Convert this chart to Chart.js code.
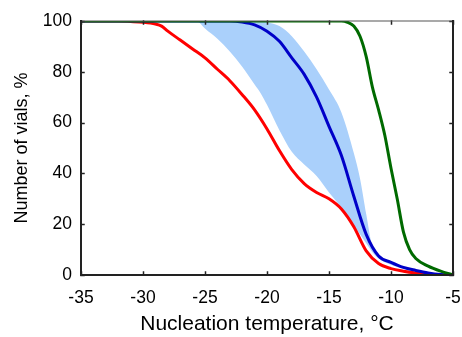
<!DOCTYPE html>
<html><head><meta charset="utf-8">
<script src="https://cdn.jsdelivr.net/npm/chart.js@4/dist/chart.umd.min.js"></script>
<style>html,body{margin:0;padding:0;background:#fff;}#wrap{width:462px;height:337px;}</style>
</head><body><div id="wrap"><canvas id="c" width="462" height="337"></canvas></div>
<script>
const xTicks = [-35,-30,-25,-20,-15,-10,-5];
const yTicks = [0,20,40,60,80,100];

const redX = [-35,-32,-31,-30,-29,-28.5,-28,-27,-26,-25,-24,-23,-22,-21,-20,-19,-18,-17,-16,-15,-14,-13,-12,-11,-10,-9,-8,-7,-6,-5];
const redY = [100,100,99.8,99.5,98.8,98,96,92.5,89,85.5,81,76.5,71,65,57.5,49,41.5,36,32.5,30,26,19,9.5,4.5,2.5,1.5,0.8,0.3,0,0];

const blueX = [-35,-23,-22,-21,-20,-19,-18,-17,-16,-15,-14,-13,-12,-11,-10,-9,-8,-7,-6,-5];
const blueY = [100,100,99.6,98.5,96,92,85.5,79,70,58.5,47,31,16,7.5,5,3,1.8,0.8,0.2,0];

const greenX = [-35,-14,-13.5,-13,-12.5,-12,-11.5,-11,-10.5,-10,-9.5,-9,-8.5,-8,-7,-6,-5];
const greenY = [100,100,99.5,98,94,86,74,65,55,42,30,17,10,6.5,3.5,1.5,0];

const bandX =     [-35,-26,-25.5,-25,-24,-23,-22,-21,-20.5,-20,-19,-18,-17,-16,-15,-14,-13,-12.5,-12,-11.5,-11,-10,-9,-8,-7,-6,-5];
const bandUpper = [100,100,100,100,100,100,100,100,100,99.5,98,94,88,81,73,64,48,38,24,11,8,5,3,1.8,0.8,0.2,0];
const bandLower = [100,100,99.5,97,93,88,82,75,71.5,67,57,48.5,43.5,39,32.5,26.5,19.5,16,12.5,9,6.5,4,2.5,1.5,0.6,0.1,0];

const pts = (xs, ys) => xs.map((x, i) => ({x: x, y: ys[i]}));

const framePlugin = {
  id: 'frame',
  afterDatasetsDraw(chart) {
    const {ctx, chartArea: a, scales: {x, y}} = chart;
    ctx.save();
    ctx.strokeStyle = '#222';
    ctx.lineCap = 'square';
    ctx.lineWidth = 1.5;
    xTicks.forEach(v => {
      const px = Math.round(x.getPixelForValue(v)) + 0.5;
      ctx.beginPath(); ctx.moveTo(px, a.bottom); ctx.lineTo(px, a.bottom - 3); ctx.stroke();
      ctx.beginPath(); ctx.moveTo(px, a.top); ctx.lineTo(px, a.top + 3); ctx.stroke();
    });
    yTicks.forEach(v => {
      const py = Math.round(y.getPixelForValue(v)) + 0.5;
      ctx.beginPath(); ctx.moveTo(a.left, py); ctx.lineTo(a.left + 3, py); ctx.stroke();
      ctx.beginPath(); ctx.moveTo(a.right, py); ctx.lineTo(a.right - 3, py); ctx.stroke();
    });
    ctx.lineWidth = 1.2;
    ctx.strokeStyle = '#555';
    ctx.beginPath(); ctx.moveTo(a.left, a.top); ctx.lineTo(a.right, a.top); ctx.stroke();
    ctx.lineWidth = 2;
    ctx.strokeStyle = '#222';
    ctx.beginPath(); ctx.moveTo(a.left, a.top); ctx.lineTo(a.left, a.bottom); ctx.lineTo(a.right, a.bottom); ctx.lineTo(a.right, a.top); ctx.stroke();
    ctx.restore();
  }
};

const common = {pointRadius: 0, borderWidth: 3, cubicInterpolationMode: 'monotone', tension: 0.4, fill: false};
const FONT = 'Liberation Sans, Arial, sans-serif';

new Chart(document.getElementById('c'), {
  type: 'line',
  data: {
    datasets: [
      {label: 'upper', data: pts(bandX, bandUpper), borderWidth: 0, borderColor: 'rgba(0,0,0,0)', pointRadius: 0, cubicInterpolationMode: 'monotone', fill: '+1', backgroundColor: '#aad0fb', order: 5},
      {label: 'lower', data: pts(bandX, bandLower), borderWidth: 0, borderColor: 'rgba(0,0,0,0)', pointRadius: 0, cubicInterpolationMode: 'monotone', fill: false, order: 5},
      Object.assign({label: 'red', data: pts(redX, redY), borderColor: '#ff0000', order: 3}, common),
      Object.assign({label: 'blue', data: pts(blueX, blueY), borderColor: '#0000c8', order: 2}, common),
      Object.assign({label: 'green', data: pts(greenX, greenY), borderColor: '#006a00', order: 1}, common)
    ]
  },
  options: {
    responsive: false,
    animation: false,
    events: [],
    layout: {padding: {left: 11, right: 9, top: 21, bottom: 0}},
    plugins: {legend: {display: false}, tooltip: {enabled: false}},
    scales: {
      x: {
        type: 'linear', min: -35, max: -5,
        afterBuildTicks: s => { s.ticks = xTicks.map(v => ({value: v})); },
        grid: {display: false, drawTicks: false},
        border: {display: false},
        ticks: {color: '#000', font: {family: FONT, size: 17.5}, padding: 13, maxRotation: 0},
        title: {display: true, text: 'Nucleation temperature, °C', color: '#000', font: {family: FONT, size: 21}, padding: {top: 5, bottom: 0}},
        afterFit: s => { s.height = 62; s.paddingLeft = 0; s.paddingRight = 0; }
      },
      y: {
        type: 'linear', min: 0, max: 100,
        afterBuildTicks: s => { s.ticks = yTicks.map(v => ({value: v})); },
        grid: {display: false, drawTicks: false},
        border: {display: false},
        ticks: {color: '#000', font: {family: FONT, size: 17.5}, padding: 9},
        title: {display: true, text: 'Number of vials, %', color: '#000', font: {family: FONT, size: 18}, padding: {top: 0, bottom: 4}},
        afterFit: s => { s.width = 70; s.paddingTop = 0; s.paddingBottom = 0; }
      }
    }
  },
  plugins: [framePlugin]
});
</script>
</body></html>
